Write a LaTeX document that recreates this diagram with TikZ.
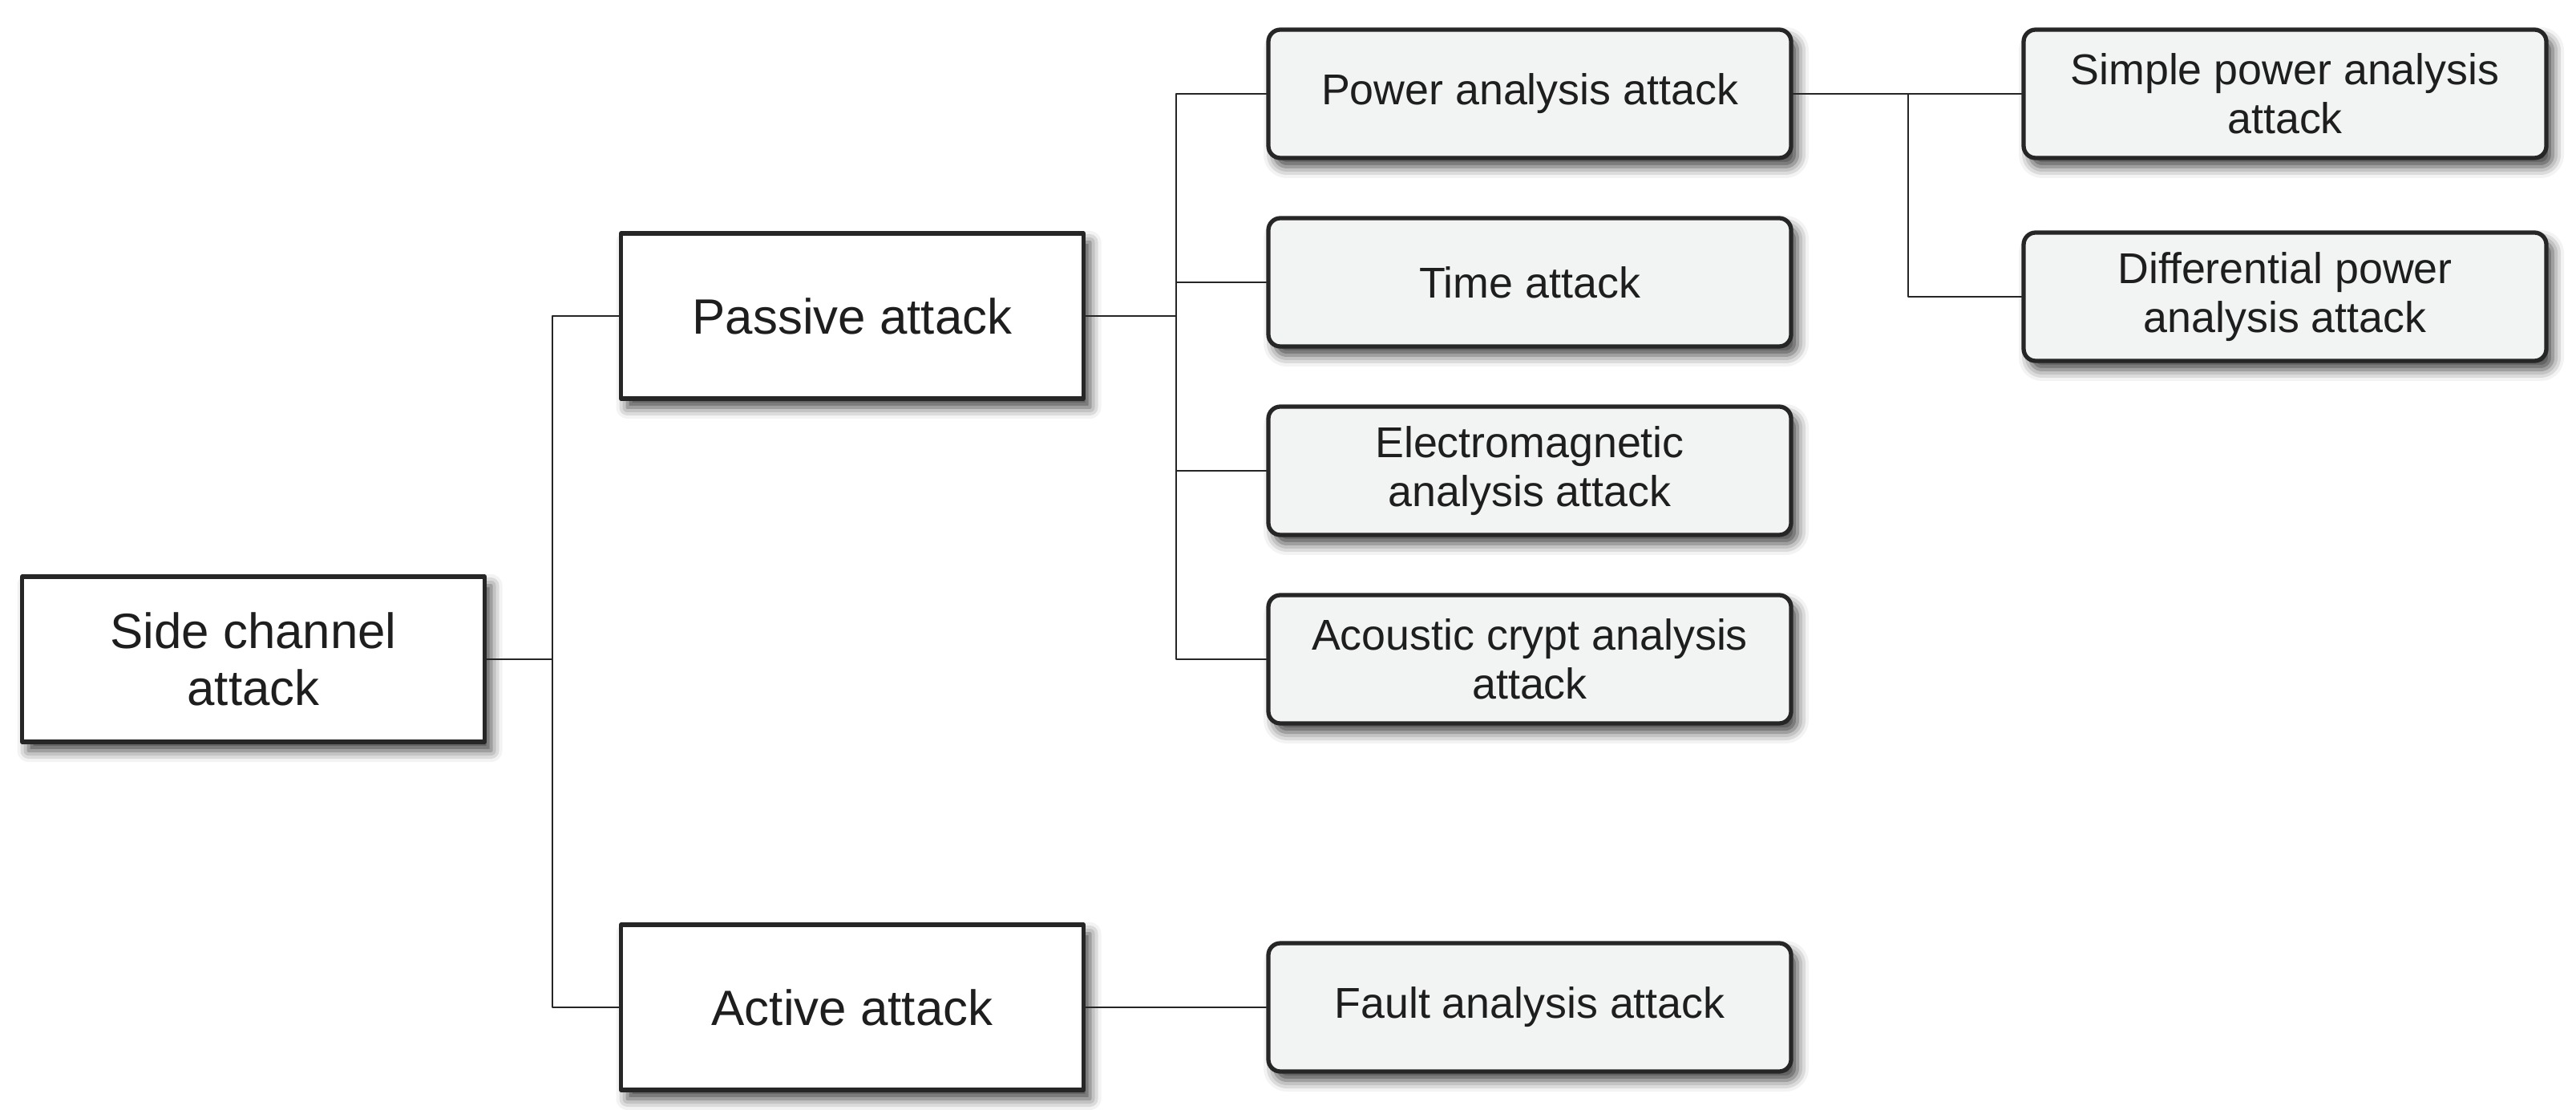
\documentclass[tikz,border=0pt]{standalone}
\usepackage{fontspec}
\setmainfont{Liberation Sans}
\usetikzlibrary{shadows.blur}
\definecolor{edge}{HTML}{262626}
\definecolor{ink}{HTML}{1E1E1E}
\definecolor{pale}{HTML}{F2F3F3}
\begin{document}
\begin{tikzpicture}[line cap=round,line join=round,x=1cm,y=1cm,
  shade/.style={blur shadow={shadow xshift=0.08cm,shadow yshift=-0.11cm,shadow blur radius=0.14cm,shadow opacity=75}},
  mainbox/.style={draw=edge,line width=1.5pt,fill=white,text=ink,align=center,shade,
    minimum width=5.77cm,minimum height=2.06cm,inner sep=0pt,
    font=\fontsize{17.6}{20.4}\selectfont},
  leafbox/.style={draw=edge,line width=1.5pt,fill=pale,text=ink,align=center,shade,rounded corners=0.15cm,
    minimum width=6.52cm,minimum height=1.60cm,inner sep=0pt,
    font=\fontsize{15.3}{17.4}\selectfont},
  link/.style={draw=edge,line width=0.7pt}]
\useasboundingbox (0,0) rectangle (32.13,-13.84);
\node[mainbox] (side) at (3.16,-8.22) {Side channel\\attack};
\node[mainbox] (passive) at (10.63,-3.94) {Passive attack};
\node[mainbox] (active) at (10.63,-12.56) {Active attack};
\node[leafbox] (power) at (19.08,-1.17) {Power analysis attack};
\node[leafbox] (time) at (19.08,-3.52) {Time attack};
\node[leafbox] (em) at (19.08,-5.87) {Electromagnetic\\analysis attack};
\node[leafbox] (acoustic) at (19.08,-8.22) {Acoustic crypt analysis\\attack};
\node[leafbox] (fault) at (19.08,-12.56) {Fault analysis attack};
\node[leafbox] (simple) at (28.50,-1.17) {Simple power analysis\\attack};
\node[leafbox] (diff) at (28.50,-3.70) {Differential power\\analysis attack};
\coordinate (j1) at (6.89,-8.22);
\coordinate (j2) at (14.67,-3.94);
\coordinate (j3) at (23.80,-1.17);
\draw[link] (side.east) -- (j1);
\draw[link] (passive.west) -| (j1) |- (active.west);
\draw[link] (passive.east) -- (j2);
\foreach \n in {power,time,em,acoustic}
  \draw[link] (\n.west) -| (j2);
\draw[link] (power.east) -- (simple.west);
\draw[link] (diff.west) -| (j3);
\draw[link] (active.east) -- (fault.west);
\end{tikzpicture}
\end{document}
